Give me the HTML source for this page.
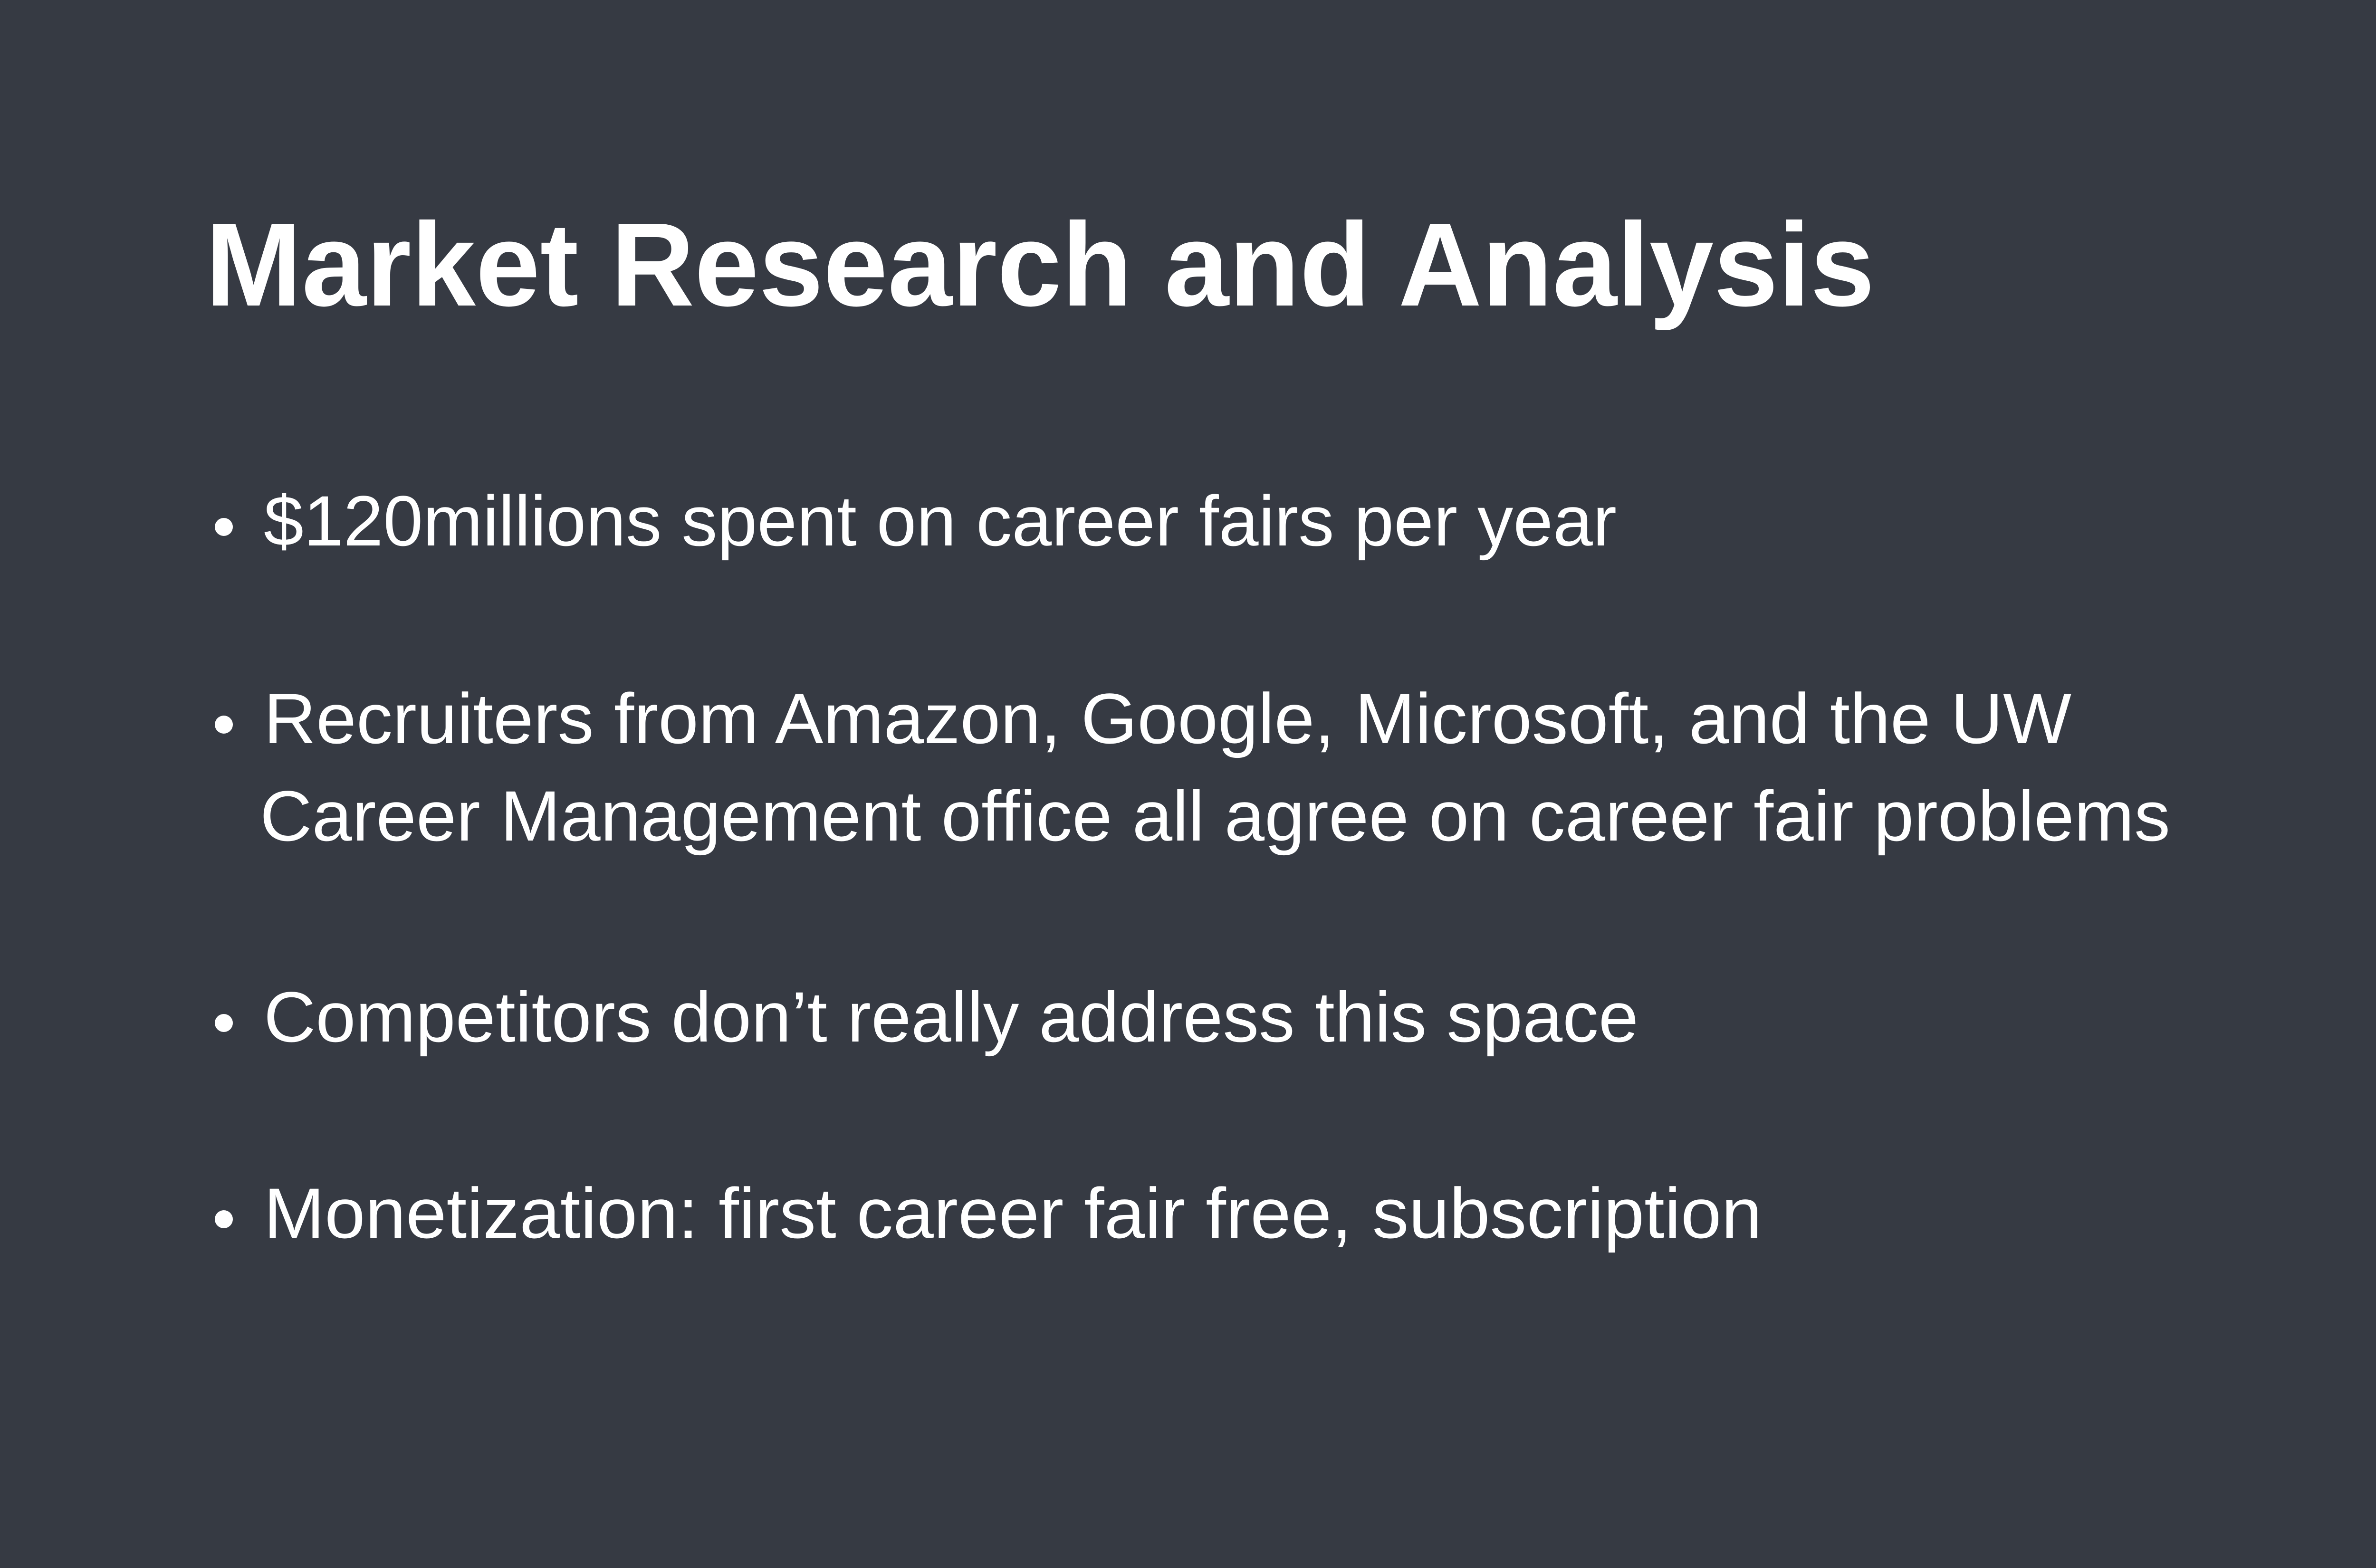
<!DOCTYPE html>
<html><head><meta charset="utf-8"><style>
html,body{margin:0;padding:0;background:#363a43;overflow:hidden;}
svg{display:block;}
</style></head><body>
<svg width="5100" height="3300" viewBox="0 0 5100 3300" xmlns="http://www.w3.org/2000/svg">
<rect width="5100" height="3300" fill="#363a43"/>
<g font-family="'Liberation Sans', sans-serif" fill="#ffffff">
<text x="432" y="643" font-size="250" font-weight="bold" textLength="3513" lengthAdjust="spacingAndGlyphs">Market Research and Analysis</text>
<g font-size="150">
<circle cx="471" cy="1109" r="19"/>
<text x="555" y="1148" textLength="2847" lengthAdjust="spacingAndGlyphs">$120millions spent on career fairs per year</text>
<circle cx="471" cy="1525" r="19"/>
<text x="555" y="1564" textLength="3804" lengthAdjust="spacingAndGlyphs">Recruiters from Amazon, Google, Microsoft, and the UW</text>
<text x="547" y="1769" textLength="4020" lengthAdjust="spacingAndGlyphs">Career Management office all agree on career fair problems</text>
<circle cx="471" cy="2153" r="19"/>
<text x="555" y="2192" textLength="2893" lengthAdjust="spacingAndGlyphs">Competitors don’t really address this space</text>
<circle cx="471" cy="2566" r="19"/>
<text x="555" y="2605" textLength="3153" lengthAdjust="spacingAndGlyphs">Monetization: first career fair free, subscription</text>
</g>
</g>
</svg>
</body></html>
